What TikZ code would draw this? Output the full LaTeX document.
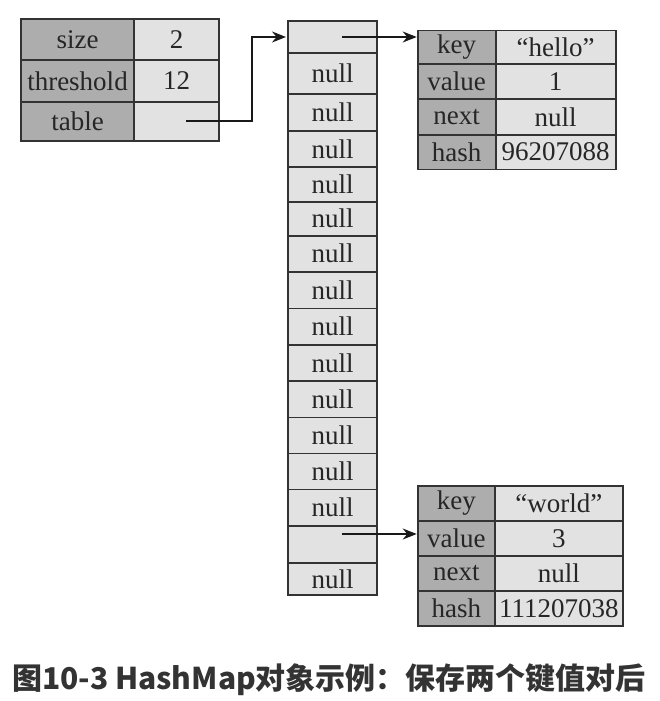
\documentclass[tikz,border=0pt]{standalone}
\usepackage{fontspec}
\setmainfont{Liberation Serif}
\newfontfamily\cjk{Noto Sans CJK SC}
\usetikzlibrary{arrows.meta}
\definecolor{darkcell}{HTML}{ADADAD}
\definecolor{lightcell}{HTML}{E2E2E2}
\definecolor{edge}{HTML}{333333}
\definecolor{captxt}{HTML}{333333}
\tikzset{
  cellbox/.style={draw=edge, line width=1.6pt, inner sep=0pt, outer sep=0pt,
    font=\fontsize{27}{28}\selectfont, text=black!85},
  keycell/.style={cellbox, fill=darkcell},
  valcell/.style={cellbox, fill=lightcell},
  link/.style={line width=1.6pt, draw=black!90, -{Stealth[length=14pt,width=11pt]}},
}
\begin{document}
\begin{tikzpicture}[x=1pt,y=-1pt]
\useasboundingbox (0,0) rectangle (660,701);
% left table
\foreach \a/\b/\k/\v [count=\i] in {19/60/size/2, 60/102/threshold/12, 102/141/table/{}} {
  \node[keycell, minimum width=113pt, minimum height={(\b-\a)*1pt}] (l\i k) at (77.5,{(\a+\b)/2}) {\k};
  \node[valcell, minimum width=85pt, minimum height={(\b-\a)*1pt}] (l\i v) at (176.5,{(\a+\b)/2}) {\v};
}
% bucket column
\foreach \a/\b/\t [count=\i] in {21/53/{}, 53/94/null, 94/131/null, 131/167/null, 167/201.7/null,
  201.7/235.7/null, 235.7/271.7/null, 271.7/308.3/null, 308.3/345/null, 345/381/null,
  381/417.3/null, 417.3/453.3/null, 453.3/489.3/null, 489.3/526/null, 526/562.7/{}, 562.7/595/null} {
  \node[valcell, minimum width=89pt, minimum height={(\b-\a)*1pt}] (c\i) at (332.5,{(\a+\b)/2}) {\t};
}
% hello entry
\foreach \a/\b/\k/\v [count=\i] in {30.7/64.3/key/{“hello”}, 64.3/99/value/1, 99/135/next/null, 135/169.3/hash/96207088} {
  \node[keycell, minimum width=78pt, minimum height={(\b-\a)*1pt}] (h\i k) at (456.7,{(\a+\b)/2}) {\k};
  \node[valcell, minimum width=120pt, minimum height={(\b-\a)*1pt}] (h\i v) at (555.7,{(\a+\b)/2}) {\v};
}
% world entry
\foreach \a/\b/\k/\v [count=\i] in {486/520.7/key/{“world”}, 520.7/556/value/3, 556/590.7/next/null, 590.7/626/hash/111207038} {
  \node[keycell, minimum width=77.3pt, minimum height={(\b-\a)*1pt}] (w\i k) at (456.35,{(\a+\b)/2}) {\k};
  \node[valcell, minimum width=127.7pt, minimum height={(\b-\a)*1pt}] (w\i v) at (558.85,{(\a+\b)/2}) {\v};
}
% arrows
\coordinate (s1) at (186,121);
\coordinate (s2) at (342,37);
\coordinate (s3) at (342,534);
\draw[link] (s1) -- ++(66,0) |- ([xshift=-2pt]c1.west);
\draw[link] (s2) -- ([xshift=-1pt]s2 -| h1k.west);
\draw[link] (s3) -- ([xshift=-1pt]s3 -| w2k.west);
% caption
\node[font={\cjk\bfseries\fontsize{30}{32}\selectfont}, text=captxt] (cap) at (329,680) {图10-3 HashMap对象示例：保存两个键值对后};
\end{tikzpicture}
\end{document}
